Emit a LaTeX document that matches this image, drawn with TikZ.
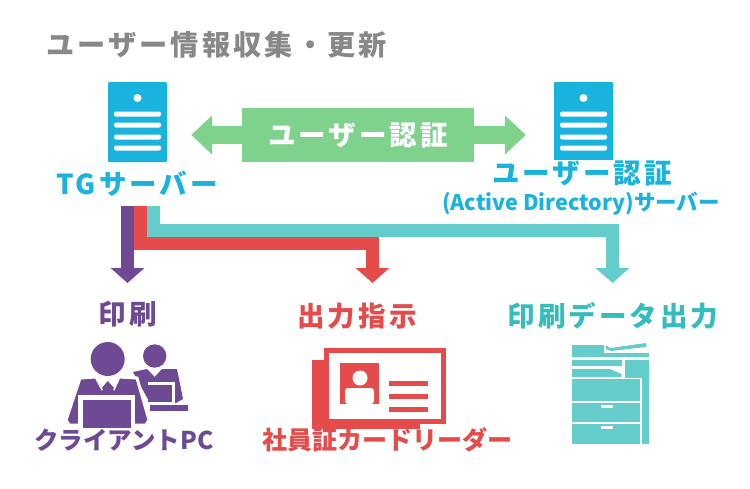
\documentclass[tikz,border=0pt]{standalone}
\usepackage{fontspec}
\usepackage{tikz}
\setmainfont{Noto Sans CJK JP}
\newfontfamily\jpwide[LetterSpace=11]{Noto Sans CJK JP}
\usetikzlibrary{positioning,arrows.meta}
\definecolor{srvblue}{HTML}{1AB3DD}
\definecolor{authgreen}{HTML}{7ED28C}
\definecolor{prtpurple}{HTML}{6F4A94}
\definecolor{cardred}{HTML}{E54B4B}
\definecolor{datateal}{HTML}{65CCCC}
\definecolor{datatext}{HTML}{34BDBD}
\definecolor{titlegray}{HTML}{888888}

\begin{document}
\begin{tikzpicture}[
  x=1pt, y=-1pt,
  srv/.style={fill=srvblue, rounded corners=1pt, minimum width=59pt, minimum height=80pt, inner sep=0pt},
  wtitle/.style={font=\fontsize{27.5}{30}\jpwide\bfseries, inner sep=0pt, text height=24pt, text depth=2pt},
  ntitle/.style={font=\fontsize{24.5}{28}\selectfont\bfseries, inner sep=0pt, text height=21pt, text depth=2pt, fill=white},
  drop/.style={line width=13pt, -{Triangle[length=15pt,width=33pt]}, miter limit=10},
  auth/.style={line width=18.5pt, authgreen, -{Triangle[length=21pt,width=38pt]}}
]
\useasboundingbox (0,0) rectangle (750,488);

\node[wtitle, font=\fontsize{28.2}{30}\jpwide\bfseries, text=titlegray, anchor=west] (title) at (46,44) {ユーザー情報収集・更新};

% servers
\node[srv] (tgsrv) at (137.5,122) {};
\node[srv] (adsrv) at (583.5,122) {};
\foreach \n in {tgsrv,adsrv} {
  \fill[white] (\n.center) ++(0,-24) circle (4pt);
  \foreach \y in {-8,3,15,26}
    \fill[white, rounded corners=2pt] ([xshift=-23.5pt,yshift=-\y pt-2.5pt]\n.center) rectangle ([xshift=23.5pt,yshift=-\y pt+2.5pt]\n.center);
}

% authentication
\node[fill=authgreen, minimum width=232pt, minimum height=54pt, inner sep=0pt, text=white, font=\fontsize{27.5}{30}\jpwide\bfseries] (authbox) at (358,135) {ユーザー認証};
\draw[auth, shorten >=24pt] (authbox.west) -- (tgsrv.east |- authbox.west);
\draw[auth, shorten >=28pt] (authbox.east) -- (adsrv.west |- authbox.east);

% icons: client
\fill[prtpurple] (154.7,356) circle (11.7pt);
\fill[prtpurple] (133,372) -- (147,369) -- (154.7,377) -- (162,369) -- (177,369) -- (183,399) -- (176,403) -- (150,403) -- cycle;
\fill[white] (148,382) rectangle (175,405);
\fill[prtpurple] (148,385) rectangle (171.5,402);
\fill[prtpurple] (150,405) rectangle (188,411);
\fill[prtpurple] (107.7,359) circle (17pt);
\filldraw[prtpurple, draw=white, line width=3pt] (80,378) -- (96,377) -- (102,388) -- (107.7,381) -- (114,388) -- (119,377) -- (137,378) -- (149,420) -- (146,425) -- (69,425) -- (66,420) -- cycle;
\fill[white] (78,395) rectangle (135,428);
\fill[prtpurple] (83,400) rectangle (131,428);
\fill[prtpurple] (102,388) -- (107.7,381) -- (114,388) -- (107.7,395) -- cycle;

% icons: card
\fill[cardred] (312,360) rectangle (330,430);
\fill[cardred] (312,424) rectangle (420,430);
\fill[cardred] (324,348) rectangle (446,424);
\fill[white] (329,353) rectangle (441,419);
\fill[cardred] (340,363) rectangle (379,404);
\fill[white] (360,378) circle (7.5pt);
\fill[white, rounded corners=3pt] (345,404) -- (345,388) -- (374,388) -- (374,404) -- cycle;
\foreach \y in {381,394,407}
  \fill[cardred] (389,\y) rectangle (428,\y+5);

% icons: copier
\fill[datateal] (572,345) rectangle (603.5,357);
\fill[datateal] (604,353) rectangle (649,357);
\fill[datateal] (606,345) -- (610,348) -- (646,343) -- (646,347) -- (611,351) -- (606,349) -- cycle;
\fill[datateal] (572,360) rectangle (622,365.7);
\fill[datateal] (572,369) -- (610,369) -- (621.5,374) -- (621.5,377) -- (572,377) -- cycle;
\fill[datateal] (625,360) -- (649,360) -- (649,444) -- (642,444) -- (642,378) -- (625,378) -- cycle;
\fill[datateal] (572,379) rectangle (640,401);
\fill[datateal] (572,403) rectangle (640,422);
\fill[datateal] (572,424) rectangle (640,444);
\fill[white] (601,405) rectangle (613,407.7);
\fill[white] (601,426.3) rectangle (613,429);

% labels
\node[wtitle, text=srvblue] (tglabel) at (137,183) {TGサーバー};
\node[wtitle, text=srvblue, fill=white] (adlabel) at (582,172.5) {ユーザー認証};
\node[font=\fontsize{21.5}{25}\selectfont\bfseries, text=srvblue, inner sep=0pt, text height=18pt, text depth=4pt] (adsub) at (581,203) {(Active Directory)サーバー};
\node[wtitle, text=prtpurple] (prtlabel) at (128,313) {印刷};
\node[wtitle, text=cardred] (cmdlabel) at (357,315) {出力指示};
\node[wtitle, text=datatext] (datalabel) at (613,315) {印刷データ出力};
\node[ntitle, text=prtpurple] (pclabel) at (124,440) {クライアントPC};
\node[ntitle, font=\fontsize{25}{28}\selectfont\bfseries, text=cardred] (cardlabel) at (387,440) {社員証カードリーダー};

% connectors
\coordinate (prtfrom) at (127.5,206);
\coordinate (cmdfrom) at (140.5,206);
\coordinate (datafrom) at (153.5,206);
\coordinate (prtto) at (127.5,283);
\coordinate (cmdto) at (372.5,283);
\coordinate (datato) at (612.5,283);
\draw[drop, datateal] (datafrom) |- (230.5,230.5) -| (datato);
\draw[drop, cardred] (cmdfrom) |- (243.5,243.5) -| (cmdto);
\draw[drop, prtpurple] (prtfrom) -- (prtto);
\end{tikzpicture}
\end{document}
